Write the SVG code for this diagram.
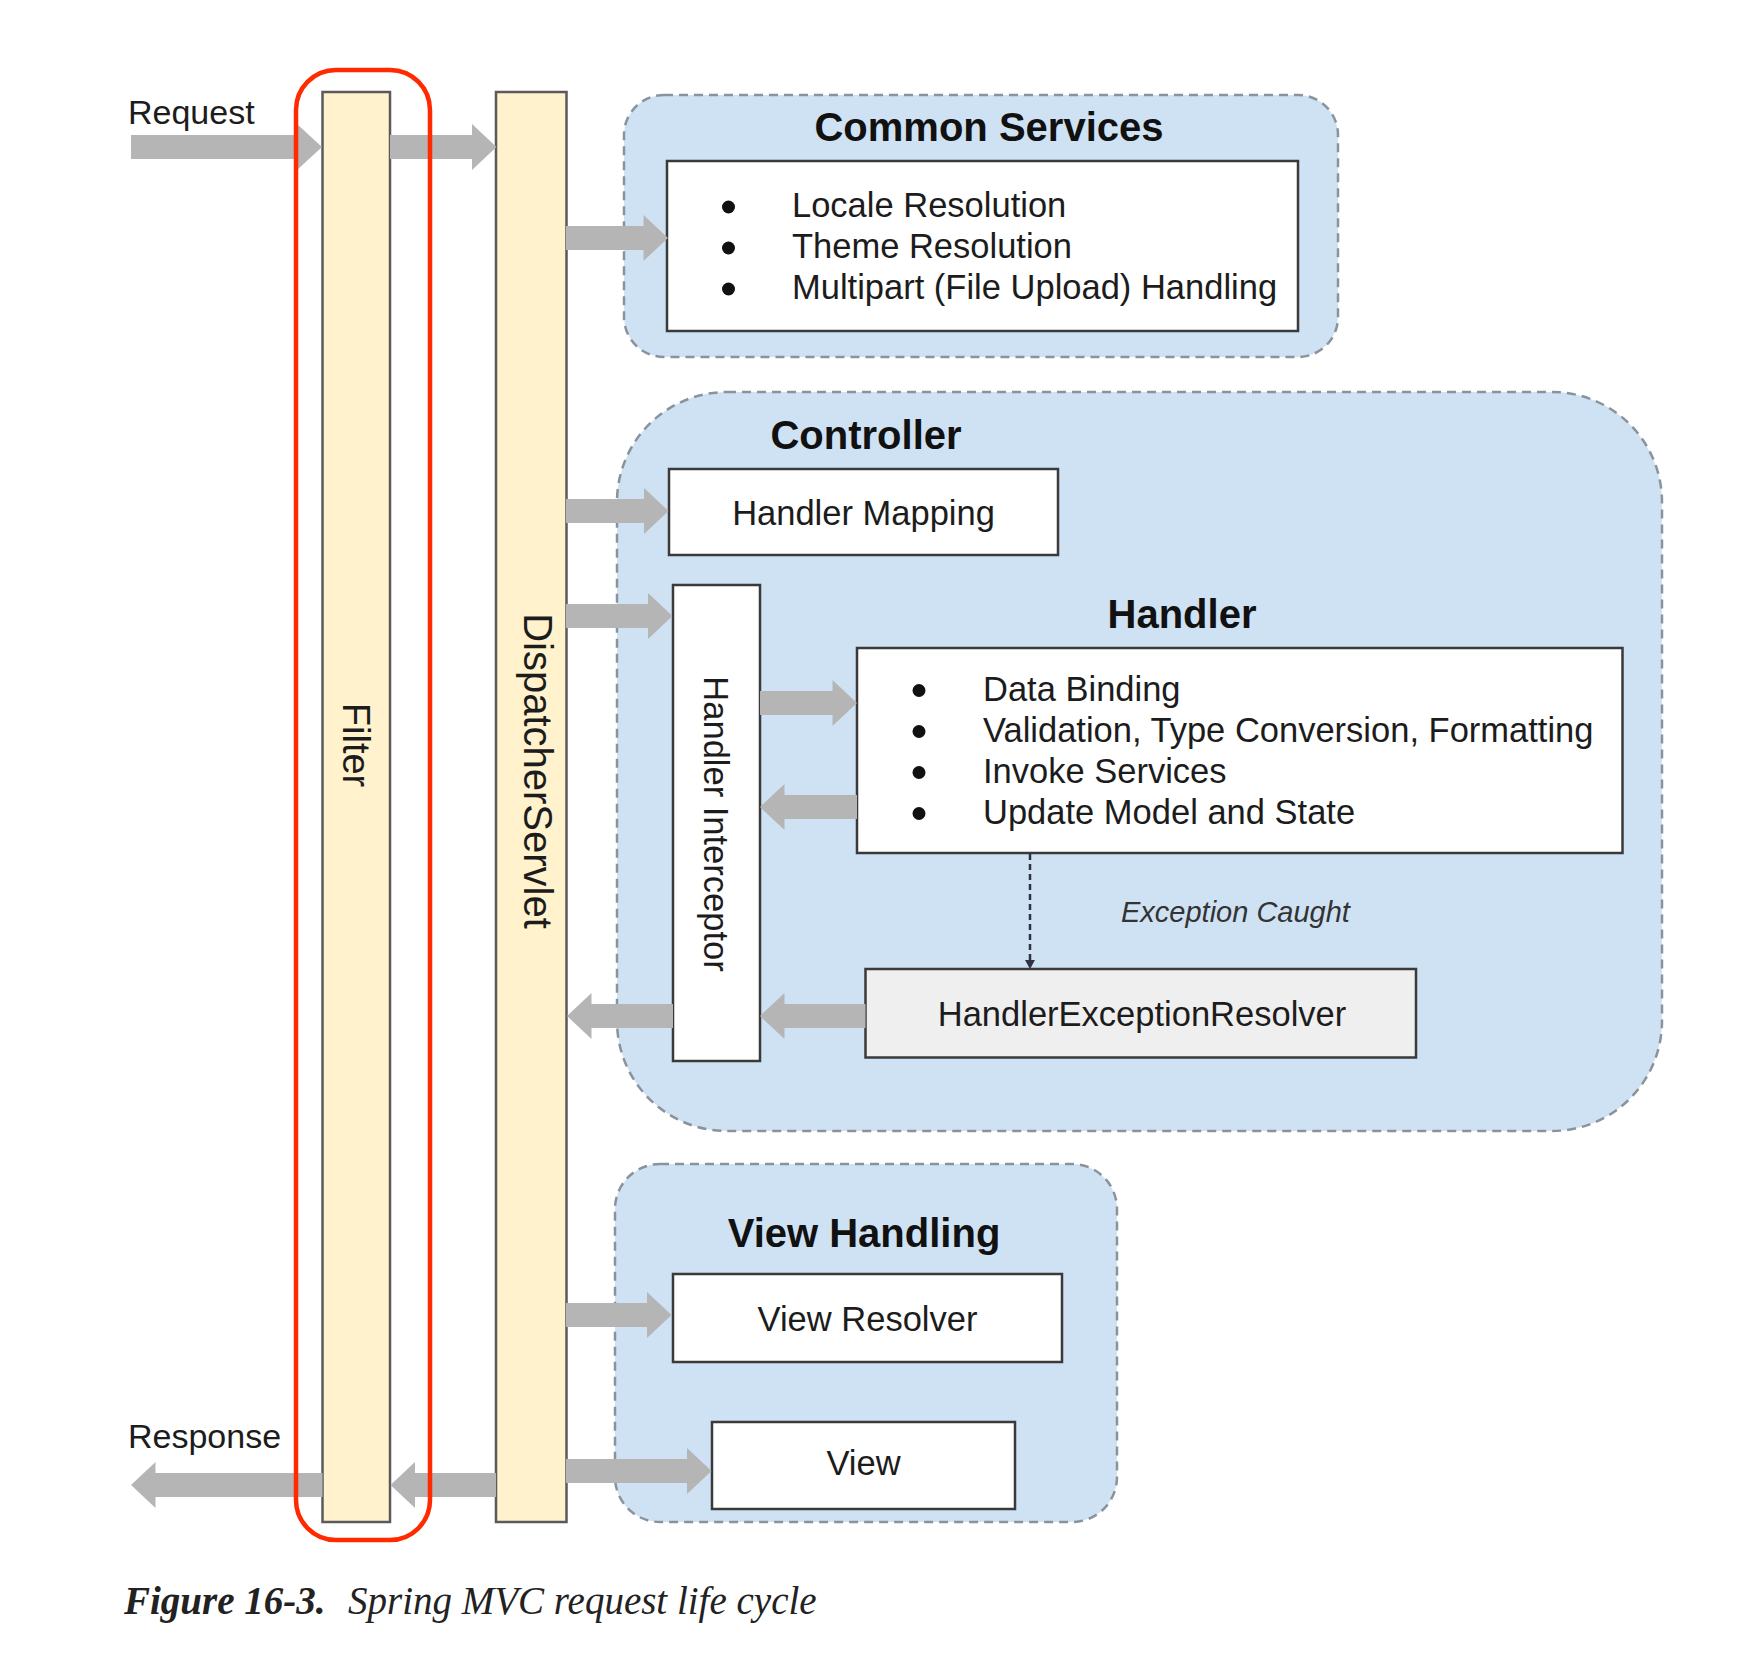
<svg xmlns="http://www.w3.org/2000/svg" width="1748" height="1658" viewBox="0 0 1748 1658">
<style>
.panel{fill:#cfe2f3;stroke:#8a939c;stroke-width:2.5;stroke-dasharray:9 6}
.box{fill:#ffffff;stroke:#3a3a3a;stroke-width:2.5}
.box2{fill:#efefef;stroke:#3a3a3a;stroke-width:2.5}
.bar{fill:#fff2cc;stroke:#5a5a5a;stroke-width:2.5}
.arrow{fill:#b5b5b5}
.t{font-family:"Liberation Sans",Arial,sans-serif;font-size:34.5px;fill:#1c1c1c}
.title{font-family:"Liberation Sans",Arial,sans-serif;font-size:40px;font-weight:bold;fill:#111}
.mid{text-anchor:middle}
.bul{fill:#111}
.cap{font-family:"Liberation Serif","Times New Roman",serif;font-size:39px;font-style:italic;fill:#222}
</style>

<g id="common-services">
<rect class="panel" x="624" y="95" width="714" height="262" rx="40"/>
<text class="title mid" x="989" y="141">Common Services</text>
<rect class="box" x="667" y="161" width="631" height="170"/>
<circle class="bul" cx="728.5" cy="207" r="6.5"/>
<circle class="bul" cx="728.5" cy="248" r="6.5"/>
<circle class="bul" cx="728.5" cy="289" r="6.5"/>
<text class="t" x="792" y="217">Locale Resolution</text>
<text class="t" x="792" y="258">Theme Resolution</text>
<text class="t" x="792" y="299">Multipart (File Upload) Handling</text>
</g>

<g id="controller">
<rect class="panel" x="617" y="392" width="1045" height="739" rx="110"/>
<text class="title mid" x="866" y="449">Controller</text>
</g>

<g id="handler-mapping">
<rect class="box" x="669" y="469" width="389" height="86"/>
<text class="t mid" x="863.5" y="524.5">Handler Mapping</text>
</g>

<g id="handler-interceptor">
<rect class="box" x="673" y="585" width="87" height="476"/>
<text class="t mid" transform="translate(704,824) rotate(90)" x="0" y="0">Handler Interceptor</text>
</g>

<g id="handler">
<text class="title mid" x="1182" y="628">Handler</text>
<rect class="box" x="857" y="648" width="765.5" height="205"/>
<circle class="bul" cx="919" cy="690.5" r="6.5"/>
<circle class="bul" cx="919" cy="731.5" r="6.5"/>
<circle class="bul" cx="919" cy="772.5" r="6.5"/>
<circle class="bul" cx="919" cy="813.5" r="6.5"/>
<text class="t" x="983" y="701">Data Binding</text>
<text class="t" x="983" y="742">Validation, Type Conversion, Formatting</text>
<text class="t" x="983" y="783">Invoke Services</text>
<text class="t" x="983" y="824">Update Model and State</text>
</g>

<g id="handler-exception-resolver">
<rect class="box2" x="865.5" y="969" width="550.5" height="88.5"/>
<text class="t mid" x="1142" y="1026">HandlerExceptionResolver</text>
</g>

<g id="view-handling">
<rect class="panel" x="615" y="1164" width="502" height="358" rx="45"/>
<text class="title mid" x="864" y="1247">View Handling</text>
</g>

<g id="view-resolver">
<rect class="box" x="673" y="1274" width="389" height="88"/>
<text class="t mid" x="867.5" y="1331">View Resolver</text>
</g>

<g id="view">
<rect class="box" x="712" y="1422" width="303" height="87"/>
<text class="t mid" x="863.5" y="1475">View</text>
</g>

<g id="filter">
<rect class="bar" x="322.5" y="92" width="67.5" height="1430"/>
<text class="t mid" style="font-size:38px" transform="translate(343,745) rotate(90)" x="0" y="0">Filter</text>
</g>

<g id="dispatcher-servlet">
<rect class="bar" x="496" y="92" width="70.5" height="1430"/>
<text class="t mid" style="font-size:40px" transform="translate(524,771) rotate(90)" x="0" y="0">DispatcherServlet</text>
</g>

<g id="labels">
<text class="t" style="font-size:34px" x="128" y="124">Request</text>
<text class="t" style="font-size:34px" x="128" y="1448">Response</text>
<text class="t" style="font-size:29px;font-style:italic;fill:#333" x="1121" y="922">Exception Caught</text>
</g>

<g id="connectors">
<polygon class="arrow" points="131,135 297,135 297,124 322,147 297,170 297,159 131,159"/>
<polygon class="arrow" points="390,135 472,135 472,124 496.5,147 472,170 472,159 390,159"/>
<polygon class="arrow" points="566,226 643.5,226 643.5,215 668,238 643.5,261 643.5,250 566,250"/>
<polygon class="arrow" points="566,499 644,499 644,488 668.5,511 644,534 644,523 566,523"/>
<polygon class="arrow" points="566,604 648,604 648,593 672.5,616 648,639 648,628 566,628"/>
<polygon class="arrow" points="760,691 832.5,691 832.5,680 857,703 832.5,726 832.5,715 760,715"/>
<polygon class="arrow" points="566,1303 647,1303 647,1292 671.5,1315 647,1338 647,1327 566,1327"/>
<polygon class="arrow" points="566,1459 687,1459 687,1448 711.5,1471 687,1494 687,1483 566,1483"/>
<polygon class="arrow" points="857,795 784.5,795 784.5,784 760,807 784.5,830 784.5,819 857,819"/>
<polygon class="arrow" points="865.5,1004 784.5,1004 784.5,993 760,1016 784.5,1039 784.5,1028 865.5,1028"/>
<polygon class="arrow" points="673,1004 591.5,1004 591.5,993 567,1016 591.5,1039 591.5,1028 673,1028"/>
<polygon class="arrow" points="496,1473 415,1473 415,1462 390.5,1485 415,1508 415,1497 496,1497"/>
<polygon class="arrow" points="322.5,1473 155.5,1473 155.5,1462 131,1485 155.5,1508 155.5,1497 322.5,1497"/>
<line x1="1030" y1="854" x2="1030" y2="961" stroke="#2e3540" stroke-width="2.5" stroke-dasharray="6 4"/>
<polygon points="1025,960 1035,960 1030,969" fill="#2e3540"/>
</g>

<g id="highlight">
<rect x="296" y="70" width="134" height="1470" rx="40" fill="none" stroke="#ff2a00" stroke-width="4.5"/>
</g>

<g id="caption">
<text class="cap" style="font-weight:bold" x="124" y="1614">Figure 16-3.</text>
<text class="cap" x="348" y="1614">Spring MVC request life cycle</text>
</g>
</svg>
